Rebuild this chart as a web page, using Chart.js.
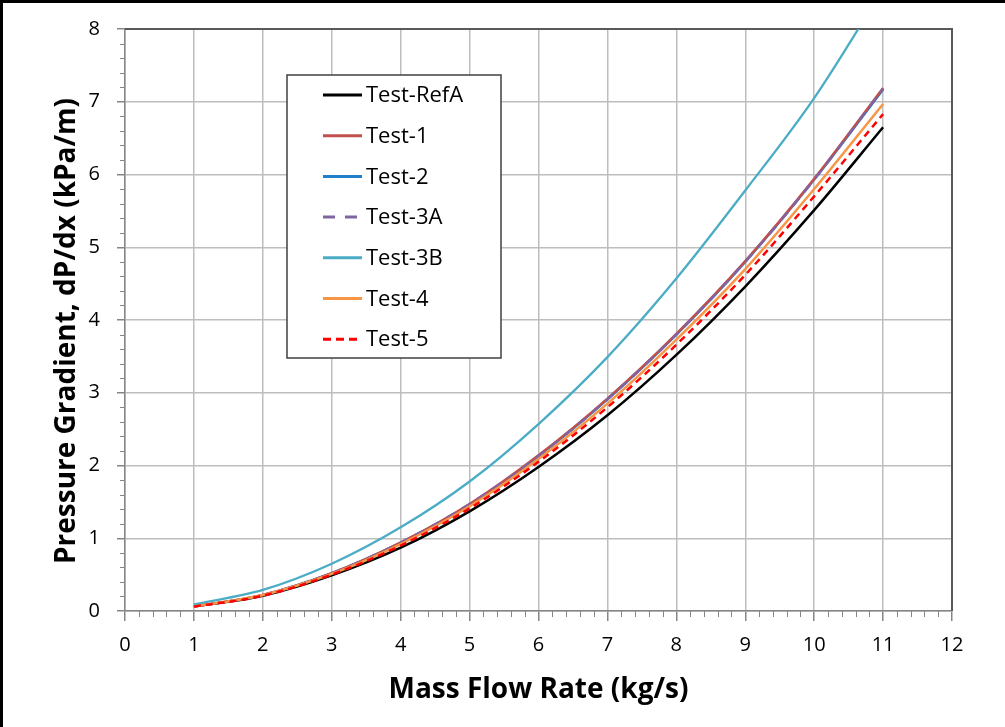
<!DOCTYPE html>
<html>
<head>
<meta charset="utf-8">
<script src="https://cdn.jsdelivr.net/npm/chart.js@4/dist/chart.umd.min.js"></script>
<style>
  html, body { margin: 0; padding: 0; background: #fff; overflow: hidden; }
  #wrap { width: 1005px; height: 727px; position: relative; }
</style>
</head>
<body>
<div id="wrap"><canvas id="c" width="1005" height="727"></canvas></div>
<script>
// Mass flow rate (kg/s)
const massFlow = [1, 2, 3, 4, 5, 6, 7, 8, 9, 10, 11];

// Pressure gradient dP/dx (kPa/m) for each test
const testRefA = [0.06, 0.21, 0.49, 0.87, 1.37, 1.98, 2.69, 3.52, 4.46, 5.51, 6.65];
const test1    = [0.06, 0.22, 0.52, 0.94, 1.47, 2.14, 2.92, 3.81, 4.81, 5.94, 7.19];
const test2    = [0.06, 0.22, 0.52, 0.94, 1.46, 2.13, 2.91, 3.80, 4.80, 5.93, 7.17];
const test3A   = [0.06, 0.22, 0.52, 0.94, 1.47, 2.13, 2.91, 3.80, 4.80, 5.93, 7.18];
const test3B   = [0.09, 0.29, 0.65, 1.15, 1.78, 2.57, 3.49, 4.57, 5.78, 7.05, 8.55];
const test4    = [0.06, 0.22, 0.51, 0.92, 1.44, 2.09, 2.85, 3.73, 4.70, 5.80, 6.97];
const test5    = [0.06, 0.21, 0.50, 0.90, 1.41, 2.05, 2.80, 3.66, 4.62, 5.70, 6.83];

const seriesNames = ['Test-RefA', 'Test-1', 'Test-2', 'Test-3A', 'Test-3B', 'Test-4', 'Test-5'];
const seriesValues = [testRefA, test1, test2, test3A, test3B, test4, test5];
const seriesColors = ['#000000', '#c0504d', '#1f7fc8', '#8064a2', '#4bacc6', '#f79646', '#ff0000'];
const seriesDash = [[], [], [], [10, 8], [], [], [7, 5]];
const legendDash = [[], [], [], [12, 10], [], [], [8, 5]];
const seriesOrder = [5, 4, 6, 3, 2, 1, 0];

// Axis tick labels and titles
const xTickLabels = ['0','1','2','3','4','5','6','7','8','9','10','11','12'];
const yTickLabels = ['0','1','2','3','4','5','6','7','8'];
const xTitle = 'Mass Flow Rate (kg/s)';
const yTitle = 'Pressure Gradient, dP/dx (kPa/m)';

const FONT = "'Open Sans', 'DejaVu Sans', sans-serif";
const AXIS_GREY = '#868686';

const datasets = seriesNames.map((name, i) => ({
  label: name,
  data: massFlow.map((x, k) => ({ x: x, y: seriesValues[i][k] })),
  borderColor: seriesColors[i],
  backgroundColor: seriesColors[i],
  borderWidth: i === 4 ? 2.3 : 2.5,
  borderDash: seriesDash[i],
  pointRadius: 0,
  cubicInterpolationMode: 'monotone',
  fill: false,
  order: seriesOrder[i]
}));

// White background, page frame, minor ticks, dark top/right plot frame, y title
const framePlugin = {
  id: 'frame',
  beforeDraw(chart) {
    const ctx = chart.ctx;
    ctx.save();
    ctx.fillStyle = '#ffffff';
    ctx.fillRect(0, 0, chart.width, chart.height);
    ctx.fillStyle = '#000000';
    ctx.fillRect(0, 0, 3, chart.height);
    ctx.fillRect(0, 0, chart.width, 3);
    ctx.restore();
  },
  beforeDatasetsDraw(chart) {
    const ctx = chart.ctx;
    const xs = chart.scales.x, ys = chart.scales.y;
    const a = chart.chartArea;
    ctx.save();
    ctx.strokeStyle = AXIS_GREY;
    ctx.lineWidth = 1;
    for (let i = 0; i <= 60; i++) {
      if (i % 5 === 0) continue;
      const px = Math.round(xs.getPixelForValue(i / 5)) + 0.5;
      ctx.beginPath(); ctx.moveTo(px, a.bottom); ctx.lineTo(px, a.bottom + 6); ctx.stroke();
    }
    for (let i = 0; i <= 40; i++) {
      if (i % 5 === 0) continue;
      const py = Math.round(ys.getPixelForValue(i / 5)) + 0.5;
      ctx.beginPath(); ctx.moveTo(a.left - 5, py); ctx.lineTo(a.left, py); ctx.stroke();
    }
    ctx.strokeStyle = '#595959';
    ctx.lineWidth = 2;
    ctx.beginPath();
    ctx.moveTo(a.left, a.top);
    ctx.lineTo(a.right, a.top);
    ctx.lineTo(a.right, a.bottom);
    ctx.stroke();

    // vertical axis title
    ctx.translate(67, 331);
    ctx.rotate(-Math.PI / 2);
    ctx.font = "bold 28px " + FONT;
    ctx.fillStyle = '#000000';
    ctx.textAlign = 'center';
    ctx.textBaseline = 'middle';
    ctx.fillText(yTitle, 0, 0);
    ctx.restore();
  }
};

// Boxed legend inside the plot
const legendBox = { left: 287, top: 75, width: 214, height: 283, firstRow: 95, rowStep: 40.7, lineX0: 323, lineX1: 362, textX: 366 };
const legendPlugin = {
  id: 'boxLegend',
  afterDatasetsDraw(chart) {
    const ctx = chart.ctx;
    const b = legendBox;
    ctx.save();
    ctx.fillStyle = '#ffffff';
    ctx.fillRect(b.left, b.top, b.width, b.height);
    ctx.strokeStyle = '#404040';
    ctx.lineWidth = 1.5;
    ctx.strokeRect(b.left, b.top, b.width, b.height);
    ctx.font = "22px " + FONT;
    ctx.textBaseline = 'middle';
    ctx.fillStyle = '#000000';
    chart.data.datasets.forEach((ds, i) => {
      const y = b.firstRow + i * b.rowStep;
      ctx.strokeStyle = ds.borderColor;
      ctx.lineWidth = 3;
      ctx.setLineDash(legendDash[i]);
      ctx.beginPath(); ctx.moveTo(b.lineX0, y); ctx.lineTo(b.lineX1, y); ctx.stroke();
      ctx.setLineDash([]);
      ctx.fillText(ds.label, b.textX, y + 1);
    });
    ctx.restore();
  }
};

new Chart(document.getElementById('c'), {
  type: 'line',
  data: { datasets: datasets },
  options: {
    responsive: false,
    animation: false,
    devicePixelRatio: 1,
    layout: { padding: { top: 24, right: 53, left: 0, bottom: 0 } },
    plugins: { legend: { display: false }, tooltip: { enabled: false } },
    scales: {
      x: {
        type: 'linear', min: 0, max: 12,
        afterFit(scale) { scale.height = 116; },
        ticks: {
          stepSize: 1, padding: 12, color: '#000000',
          font: { family: FONT, size: 20 },
          callback: (v) => xTickLabels[v]
        },
        grid: { color: '#bdbdbd', lineWidth: 1.5, tickLength: 10, tickColor: AXIS_GREY, tickWidth: 1.5 },
        border: { color: AXIS_GREY, width: 1.5 },
        title: {
          display: true, text: xTitle, color: '#000000',
          font: { family: FONT, size: 28, weight: 'bold' },
          padding: { top: 0, bottom: 20 }
        }
      },
      y: {
        type: 'linear', min: 0, max: 8,
        afterFit(scale) { scale.width = 125; },
        ticks: {
          stepSize: 1, padding: 17, color: '#000000',
          font: { family: FONT, size: 20 },
          callback: (v) => yTickLabels[v]
        },
        grid: { color: '#bdbdbd', lineWidth: 1.5, tickLength: 8, tickColor: AXIS_GREY, tickWidth: 1.5 },
        border: { color: AXIS_GREY, width: 1.5 }
      }
    }
  },
  plugins: [framePlugin, legendPlugin]
});
</script>
</body>
</html>
